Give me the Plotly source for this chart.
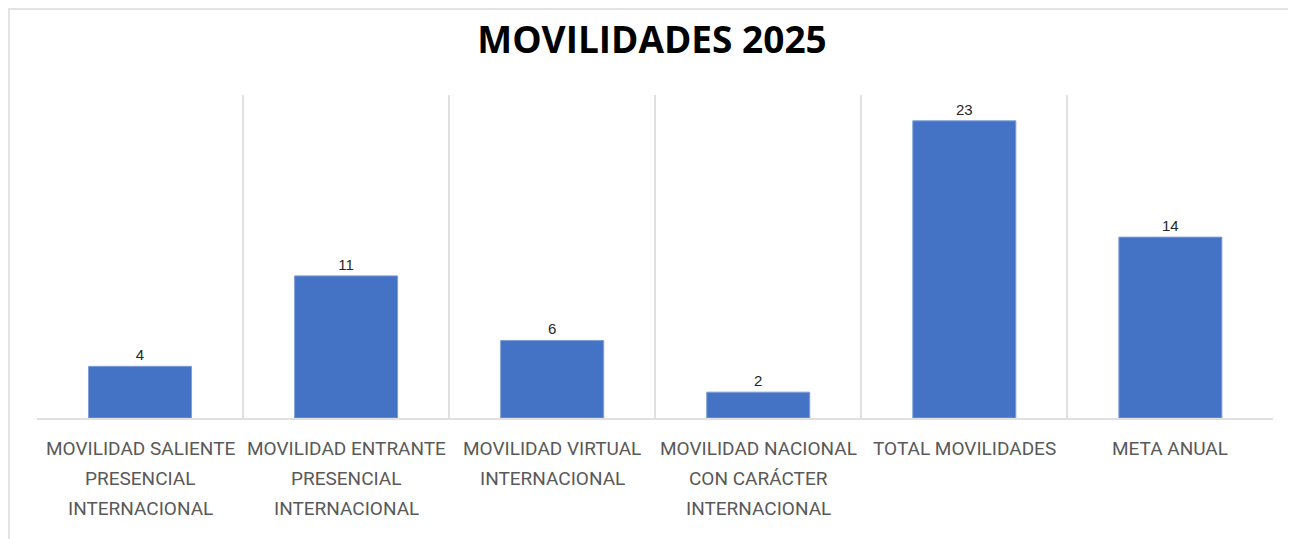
import plotly.graph_objects as go

categories = [
    "MOVILIDAD SALIENTE PRESENCIAL INTERNACIONAL",
    "MOVILIDAD ENTRANTE PRESENCIAL INTERNACIONAL",
    "MOVILIDAD VIRTUAL INTERNACIONAL",
    "MOVILIDAD NACIONAL CON CARÁCTER INTERNACIONAL",
    "TOTAL MOVILIDADES",
    "META ANUAL",
]
label_lines = [
    ["MOVILIDAD SALIENTE", "PRESENCIAL", "INTERNACIONAL"],
    ["MOVILIDAD ENTRANTE", "PRESENCIAL", "INTERNACIONAL"],
    ["MOVILIDAD VIRTUAL", "INTERNACIONAL"],
    ["MOVILIDAD NACIONAL", "CON CARÁCTER", "INTERNACIONAL"],
    ["TOTAL MOVILIDADES"],
    ["META ANUAL"],
]
values = [4, 11, 6, 2, 23, 14]
title_text = "MOVILIDADES 2025"

LABEL_FONT = "Roboto, sans-serif"
W, H = 1288, 531

fig = go.Figure()
fig.add_trace(go.Bar(
    x=categories,
    y=values,
    marker=dict(color="#4472C4", line=dict(color="#7f9fd8", width=1)),
    text=[str(v) for v in values],
    textposition="outside",
    textfont=dict(family="Liberation Sans, Arial, sans-serif", size=15, color="#262626"),
    cliponaxis=False,
    width=0.5,
))

annotations = []
for cat, lines in zip(categories, label_lines):
    for i, line in enumerate(lines):
        annotations.append(dict(
            x=cat, xref="x", y=0, yref="paper",
            yanchor="middle", xanchor="center",
            yshift=-30 - 30 * i,
            text=line, showarrow=False,
            font=dict(family=LABEL_FONT, size=19, color="#595959"),
        ))

fig.update_layout(
    width=W, height=H,
    paper_bgcolor="white", plot_bgcolor="white",
    margin=dict(l=29, r=23, t=87, b=121),
    title=dict(
        text=f"<b>{title_text}</b>",
        x=0.5, xanchor="center", y=1 - 32 / H, yanchor="middle",
        font=dict(family="Open Sans, sans-serif", size=37, color="#000000"),
    ),
    showlegend=False,
    annotations=annotations,
    shapes=[dict(
        type="rect", xref="paper", yref="paper",
        x0=-0.0227, x1=1.2, y0=-1.0, y1=1.266,
        line=dict(color="#e3e3e3", width=2), layer="below",
    )],
)
fig.update_xaxes(
    type="category",
    tickson="boundaries",
    showgrid=True, gridcolor="#e0e0e0", gridwidth=2,
    showticklabels=False, ticks="",
    showline=True, linecolor="#e0e0e0", linewidth=2,
    range=[-0.5, 5.498],
)
fig.update_yaxes(
    range=[0, 25], showgrid=False, showticklabels=False, zeroline=False,
    showline=False,
)

fig.write_html("out.html")
